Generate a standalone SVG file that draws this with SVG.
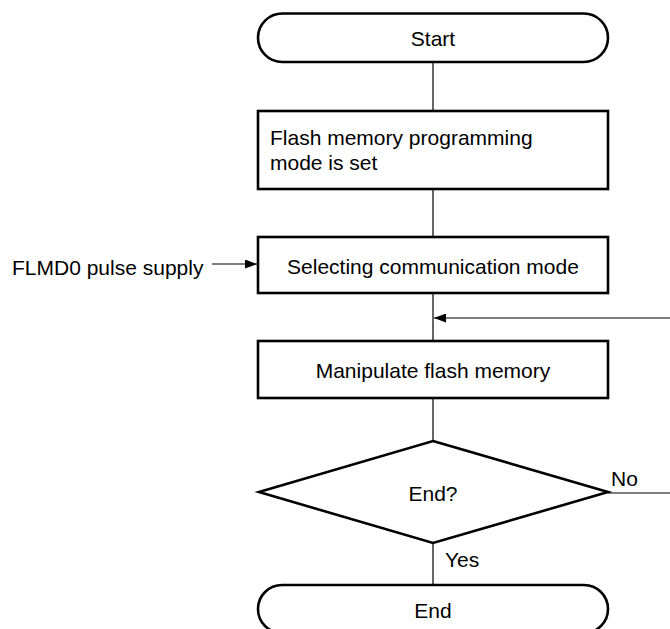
<svg xmlns="http://www.w3.org/2000/svg" width="670" height="629" viewBox="0 0 670 629">
<style>
.node{fill:#fff;stroke:#000;stroke-width:2.6}
.conn{fill:none;stroke:#000;stroke-width:1.2}
text{font-family:"Liberation Sans",Arial,sans-serif;font-size:21px;fill:#000}
.c{text-anchor:middle}
</style>
<defs>
<marker id="arr" markerUnits="userSpaceOnUse" markerWidth="13" markerHeight="9" refX="12" refY="4.5" orient="auto">
<path d="M0,0 L12,4.5 L0,9 Z" fill="#000"/>
</marker>
</defs>
<g id="connectors">
<path class="conn" d="M433,62 V111"/>
<path class="conn" d="M433,189 V237"/>
<path class="conn" d="M433,293 V341"/>
<path class="conn" d="M433,398 V440"/>
<path class="conn" d="M433,543 V585"/>
<path class="conn" d="M608,493 H690 V318 H434" marker-end="url(#arr)"/>
<path class="conn" d="M212,264 H257" marker-end="url(#arr)"/>
</g>
<g id="start">
<rect class="node" x="258" y="13.5" width="350" height="48.5" rx="24.25"/>
<text class="c" x="433" y="46">Start</text>
</g>
<g id="set-mode">
<rect class="node" x="258" y="111" width="350" height="78"/>
<text x="270" y="145">Flash memory programming</text>
<text x="270" y="170">mode is set</text>
</g>
<g id="flmd0">
<text x="12" y="275">FLMD0 pulse supply</text>
</g>
<g id="select-comm">
<rect class="node" x="258" y="237" width="350" height="56"/>
<text class="c" x="433" y="274">Selecting communication mode</text>
</g>
<g id="manipulate">
<rect class="node" x="258" y="341" width="350" height="57"/>
<text class="c" x="433" y="378">Manipulate flash memory</text>
</g>
<g id="decision">
<polygon class="node" points="433,441 608,492 433,543 259,492"/>
<text class="c" x="433" y="501">End?</text>
<text x="611" y="486">No</text>
<text x="445" y="567">Yes</text>
</g>
<g id="end">
<rect class="node" x="258" y="585" width="350" height="48" rx="24"/>
<text class="c" x="433" y="618">End</text>
</g>
</svg>
